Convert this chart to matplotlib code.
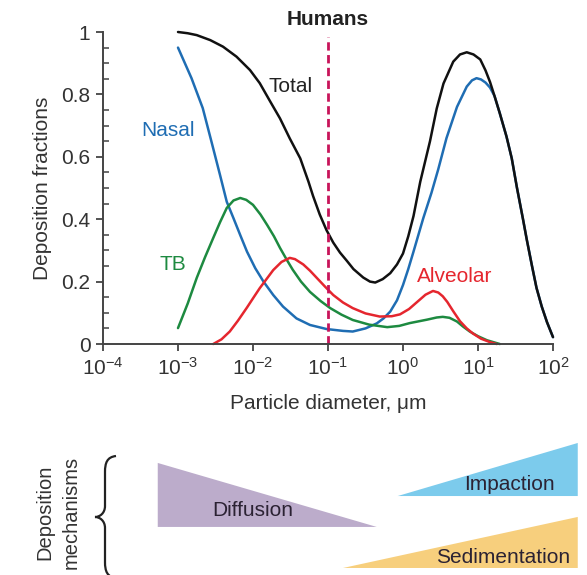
import numpy as np
import matplotlib
matplotlib.use("Agg")
import matplotlib.pyplot as plt
from matplotlib.path import Path
from matplotlib.patches import PathPatch, Polygon
from matplotlib.transforms import Affine2D
from matplotlib.ticker import FixedLocator, FuncFormatter

plt.rcParams['font.family'] = ['Liberation Sans', 'DejaVu Sans']
plt.rcParams['mathtext.fontset'] = 'custom'
plt.rcParams['mathtext.rm'] = 'Liberation Sans'

# deposition fractions vs log10(particle diameter in um)
total_logd = [-3.0, -2.87, -2.75, -2.57, -2.4, -2.22, -2.04, -1.91, -1.77, -1.64, -1.51, -1.37,
              -1.26, -1.2, -1.11, -1.02, -0.93, -0.84, -0.75, -0.66, -0.53, -0.44, -0.37, -0.27,
              -0.17, -0.08, 0.0, 0.07, 0.14, 0.23, 0.36, 0.45, 0.54, 0.67, 0.76, 0.85, 0.94,
              1.03, 1.1, 1.16, 1.22, 1.29, 1.38, 1.45, 1.52, 1.6, 1.65, 1.72, 1.78, 1.85, 1.92,
              2.0]
total_frac = [1.0, 0.996, 0.99, 0.974, 0.953, 0.921, 0.878, 0.836, 0.777, 0.723, 0.659, 0.595,
              0.52, 0.475, 0.415, 0.365, 0.325, 0.293, 0.267, 0.24, 0.213, 0.2, 0.197, 0.208,
              0.227, 0.255, 0.29, 0.345, 0.41, 0.52, 0.65, 0.755, 0.835, 0.905, 0.928, 0.935,
              0.928, 0.912, 0.877, 0.84, 0.795, 0.74, 0.665, 0.595, 0.5, 0.4, 0.335, 0.25, 0.18,
              0.12, 0.07, 0.022]

nasal_logd = [-3.0, -2.82, -2.67, -2.55, -2.44, -2.35, -2.26, -2.17, -2.08, -1.97, -1.86, -1.73,
              -1.6, -1.42, -1.24, -1.02, -0.8, -0.67, -0.5, -0.35, -0.26, -0.17, -0.08, 0.0,
              0.07, 0.14, 0.27, 0.38, 0.47, 0.58, 0.72, 0.85, 0.92, 0.98, 1.04, 1.1, 1.16, 1.22,
              1.29, 1.38, 1.45, 1.52, 1.6, 1.65, 1.72, 1.78, 1.85, 1.92, 2.0]
nasal_frac = [0.95, 0.852, 0.756, 0.645, 0.542, 0.456, 0.403, 0.349, 0.296, 0.243, 0.2, 0.157,
              0.12, 0.082, 0.061, 0.048, 0.042, 0.04, 0.05, 0.066, 0.082, 0.104, 0.14, 0.189,
              0.24, 0.296, 0.403, 0.485, 0.56, 0.66, 0.76, 0.825, 0.845, 0.852, 0.848, 0.838,
              0.822, 0.795, 0.74, 0.665, 0.595, 0.5, 0.4, 0.335, 0.25, 0.18, 0.12, 0.07, 0.022]

tb_logd = [-3.0, -2.87, -2.75, -2.64, -2.53, -2.44, -2.35, -2.26, -2.17, -2.09, -2.0, -1.9,
           -1.81, -1.72, -1.64, -1.55, -1.47, -1.36, -1.24, -1.1, -0.97, -0.82, -0.67, -0.45,
           -0.21, -0.05, 0.09, 0.32, 0.45, 0.53, 0.62, 0.72, 0.8, 0.89, 1.0, 1.12, 1.29]
tb_frac = [0.051, 0.13, 0.212, 0.278, 0.34, 0.39, 0.436, 0.46, 0.468, 0.462, 0.446, 0.415,
           0.381, 0.345, 0.308, 0.27, 0.238, 0.2, 0.167, 0.138, 0.115, 0.094, 0.077, 0.062,
           0.054, 0.058, 0.067, 0.078, 0.085, 0.087, 0.084, 0.072, 0.056, 0.04, 0.025, 0.012,
           0.0]

alv_logd = [-2.53, -2.42, -2.31, -2.2, -2.08, -1.99, -1.91, -1.82, -1.73, -1.62, -1.51, -1.44,
            -1.33, -1.24, -1.15, -1.04, -0.93, -0.8, -0.67, -0.5, -0.31, -0.15, -0.04, 0.08,
            0.19, 0.3, 0.4, 0.47, 0.53, 0.59, 0.67, 0.76, 0.85, 0.93, 1.04, 1.16, 1.25]
alv_frac = [0.0, 0.015, 0.04, 0.075, 0.117, 0.15, 0.179, 0.208, 0.237, 0.263, 0.276, 0.272,
            0.255, 0.235, 0.212, 0.184, 0.157, 0.133, 0.115, 0.098, 0.088, 0.089, 0.095, 0.112,
            0.135, 0.158, 0.17, 0.165, 0.153, 0.135, 0.105, 0.073, 0.05, 0.034, 0.017, 0.006,
            0.0]

human_d = 0.1
x_ticks = [1e-4, 1e-3, 1e-2, 1e-1, 1e0, 1e1, 1e2]
y_ticks = [0, 0.2, 0.4, 0.6, 0.8, 1.0]

# deposition mechanisms: name, diameter range (um), vertical band, which end is tall
mech_names = ["Diffusion", "Impaction", "Sedimentation"]
mech_start = [10 ** -3.27, 10 ** -0.07, 10 ** -0.8]
mech_end = [10 ** -0.35, 10 ** 2.33, 10 ** 2.33]
mech_base = [0.356, 0.585, 0.052]
mech_top = [0.83, 0.978, 0.43]
mech_tall_end = ["left", "right", "right"]
mech_colors = ["#bcaccb", "#7ccbec", "#f7cf7d"]
mech_label_d = [10 ** -2.0, 10 ** 1.42, 10 ** 1.33]
mech_label_y = [0.48, 0.67, 0.13]

W, H = 587, 575
FS = 15
fig = plt.figure(figsize=(W / 100, H / 100), dpi=100)
ax = fig.add_axes([103 / W, 1 - 344 / H, 450 / W, 312 / H])

blue = "#1f6db3"
green = "#1d8a40"
red = "#e5262e"

def diam(logd):
    return 10 ** np.asarray(logd)

kw = dict(lw=1.8, solid_joinstyle='round', solid_capstyle='round', clip_on=False)
ax.plot(diam(nasal_logd), nasal_frac, color=blue, **kw)
ax.plot(diam(tb_logd), tb_frac, color=green, **kw)
ax.plot(diam(alv_logd), alv_frac, color=red, **kw)
ax.plot(diam(total_logd), total_frac, color="#111111", **kw)
ax.plot([human_d, human_d], [0, 0.985], color="#c8145a", lw=2, ls=(0, (3, 1.6)), clip_on=False)

ax.set_xscale('log')
ax.set_xlim(1e-4, 1e2)
ax.set_ylim(0, 1)
for s in ['top', 'right']:
    ax.spines[s].set_visible(False)
for s in ['left', 'bottom']:
    ax.spines[s].set_color('#444444')
    ax.spines[s].set_linewidth(1.4)

ax.xaxis.set_major_locator(FixedLocator(x_ticks))
ax.xaxis.set_minor_locator(FixedLocator([]))
ax.xaxis.set_major_formatter(FuncFormatter(lambda v, p: r'$\mathdefault{10^{%d}}$' % round(np.log10(v))))
ax.yaxis.set_major_locator(FixedLocator(y_ticks))
ax.yaxis.set_minor_locator(FixedLocator(np.arange(0.05, 1.0, 0.05)))
ax.yaxis.set_major_formatter(FuncFormatter(lambda v, p: '%g' % v))
ax.tick_params(axis='both', which='major', direction='out', length=5, width=1.3,
               color='#444444', labelsize=FS, labelcolor='#333333', pad=4)
ax.tick_params(axis='y', which='minor', direction='in', length=4, width=1.1, color='#444444')

ax.set_xlabel("Particle diameter, \u03bcm", fontsize=FS, color='#333333', labelpad=11)
ax.set_ylabel("Deposition fractions", fontsize=FS, color='#333333', labelpad=7)

ax.text(10 ** -1.0, 1.04, "Humans", fontsize=FS, fontweight='bold', ha='center', va='center',
        color='#222222', clip_on=False)
ax.text(10 ** -1.5, 0.825, "Total", fontsize=FS, color='#222222', ha='center', va='center')
ax.text(10 ** -3.13, 0.685, "Nasal", fontsize=FS, color=blue, ha='center', va='center')
ax.text(10 ** -3.07, 0.256, "TB", fontsize=FS, color=green, ha='center', va='center')
ax.text(10 ** 0.69, 0.215, "Alveolar", fontsize=FS, color=red, ha='center', va='center')

# mechanism wedges share the particle-diameter scale
mx = fig.add_axes([103 / W, 0, 450 / W, 135 / H], sharex=ax)
mx.set_ylim(0, 1)
mx.axis('off')
for name, d0, d1, b, t, tall, c, ld, ly in zip(mech_names, mech_start, mech_end, mech_base,
                                                mech_top, mech_tall_end, mech_colors,
                                                mech_label_d, mech_label_y):
    if tall == "left":
        pts = [(d0, b), (d0, t), (d1, b)]
    else:
        pts = [(d0, b), (d1, t), (d1, b)]
    mx.add_patch(Polygon(pts, closed=True, facecolor=c, edgecolor='none', clip_on=False))
    mx.text(ld, ly, name, fontsize=FS, color='#2b2233', ha='center', va='center')

# curly brace next to the mechanisms label (figure pixel units)
px = Affine2D().scale(1 / W, -1 / H).translate(0, 1) + fig.transFigure
verts = [(116, 456), (107, 457), (105, 463), (105, 472), (105, 506),
         (105, 513), (100, 517), (95, 517),
         (100, 517), (105, 521), (105, 528), (105, 562),
         (105, 571), (107, 577), (116, 578)]
codes = [Path.MOVETO, Path.CURVE4, Path.CURVE4, Path.CURVE4, Path.LINETO,
         Path.CURVE4, Path.CURVE4, Path.CURVE4,
         Path.CURVE4, Path.CURVE4, Path.CURVE4, Path.LINETO,
         Path.CURVE4, Path.CURVE4, Path.CURVE4]
fig.add_artist(PathPatch(Path(verts, codes), transform=px, facecolor='none',
                         edgecolor='#222222', lw=1.6))
fig.text(58 / W, 1 - 512 / H, "Deposition\nmechanisms", rotation=90, fontsize=14.5,
         color='#333333', ha='center', va='center', linespacing=1.45)

fig.savefig("out.png", dpi=100)
